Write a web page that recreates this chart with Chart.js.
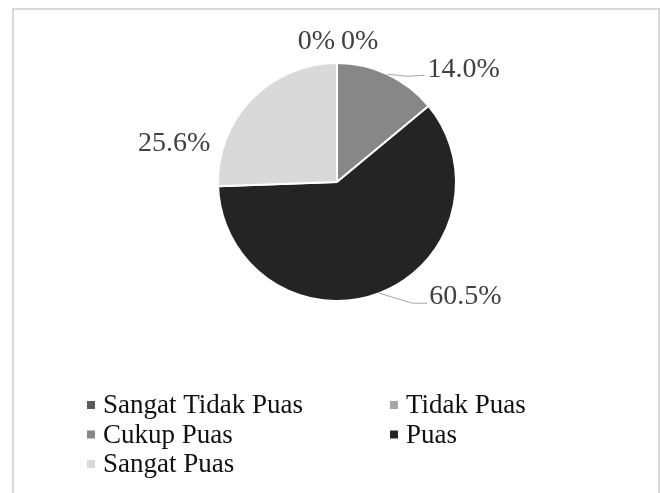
<!DOCTYPE html>
<html>
<head>
<meta charset="utf-8">
<script src="https://cdn.jsdelivr.net/npm/chart.js@4.4.1/dist/chart.umd.min.js"></script>
<style>
  html, body { margin: 0; padding: 0; background: #fff; }
  #wrap { position: relative; width: 660px; height: 493px; overflow: hidden; }
  #frame { position: absolute; left: 12px; top: 8px; width: 648px; height: 600px;
           box-sizing: border-box; border: 2px solid #d9d9d9; }
  #grafico { position: absolute; left: 0; top: 0; }
  .pre { font-family: "Liberation Serif"; position: absolute; left: -999px; }
</style>
</head>
<body>
<div id="wrap">
  <div id="frame"></div>
  <canvas id="grafico" width="660" height="493"></canvas>
</div>
<span class="pre">Sangat Tidak Puas 0%</span>
<script>
// Datos del gráfico
const kategori = ['Sangat Tidak Puas', 'Tidak Puas', 'Cukup Puas', 'Puas', 'Sangat Puas'];
const persen = [0, 0, 14.0, 60.5, 25.6];
const labelTeks = ['0%', '0%', '14.0%', '60.5%', '25.6%'];
const warna = ['#595959', '#a6a6a6', '#878787', '#242424', '#d9d9d9'];

const FUENTE = '"Liberation Serif", "Times New Roman", serif';

function dibujar() {
    const ctx = document.getElementById('grafico').getContext('2d');

    // Etiquetas fuera del pastel con líneas guía + leyenda en dos columnas
    const etiquetasPlugin = {
        id: 'etiquetas',
        afterDraw(chart, args, opts) {
            const c = chart.ctx;
            const meta = chart.getDatasetMeta(0);
            c.save();
            c.font = opts.labelFont;
            c.fillStyle = '#404040';
            c.textBaseline = 'alphabetic';
            meta.data.forEach((arc, i) => {
                const mid = (arc.startAngle + arc.endAngle) / 2;
                const ax = arc.x + Math.cos(mid) * arc.outerRadius;
                const ay = arc.y + Math.sin(mid) * arc.outerRadius;
                const pos = opts.posisi[i];
                if (pos.guia) {
                    c.beginPath();
                    c.strokeStyle = '#a6a6a6';
                    c.lineWidth = 1;
                    c.moveTo(ax, ay);
                    pos.guia.forEach(p => c.lineTo(ax + p[0], ay + p[1]));
                    c.stroke();
                }
                c.textAlign = pos.align;
                c.fillText(labelTeks[i], ax + pos.dx, ay + pos.dy);
            });

            // leyenda
            c.font = opts.legendFont;
            c.textAlign = 'left';
            const ds = chart.data.datasets[0];
            chart.data.labels.forEach((lab, i) => {
                const col = i % 2;
                const row = Math.floor(i / 2);
                const x = opts.legendX[col];
                const y = opts.legendY + row * opts.legendRow;
                c.fillStyle = ds.backgroundColor[i];
                c.fillRect(x, y - 12, 8, 8);
                c.fillStyle = '#111';
                c.fillText(lab, x + 16, y);
            });
            c.restore();
        }
    };

    new Chart(ctx, {
        type: 'pie',
        data: {
            labels: kategori,
            datasets: [{
                data: persen,
                backgroundColor: warna,
                borderColor: '#ffffff',
                borderWidth: 2
            }]
        },
        options: {
            responsive: false,
            animation: false,
            layout: { padding: { left: 217, right: 203, top: 62, bottom: 191 } },
            plugins: {
                legend: { display: false },
                tooltip: { enabled: false },
                etiquetas: {
                    labelFont: '28px ' + FUENTE,
                    legendFont: '27px ' + FUENTE,
                    legendX: [87, 390],
                    legendY: 413,
                    legendRow: 29.5,
                    posisi: [
                        { dx: -2, dy: -14, align: 'right' },
                        { dx: 4, dy: -14, align: 'left' },
                        { dx: 40, dy: 3, align: 'left', guia: [[20, 2], [37, 1]] },
                        { dx: 50, dy: 11, align: 'left', guia: [[33, 10], [48, 10]] },
                        { dx: -41, dy: 52, align: 'right' }
                    ]
                }
            }
        },
        plugins: [etiquetasPlugin]
    });
}

document.fonts.load('27px "Liberation Serif"').then(dibujar, dibujar);
</script>
</body>
</html>
